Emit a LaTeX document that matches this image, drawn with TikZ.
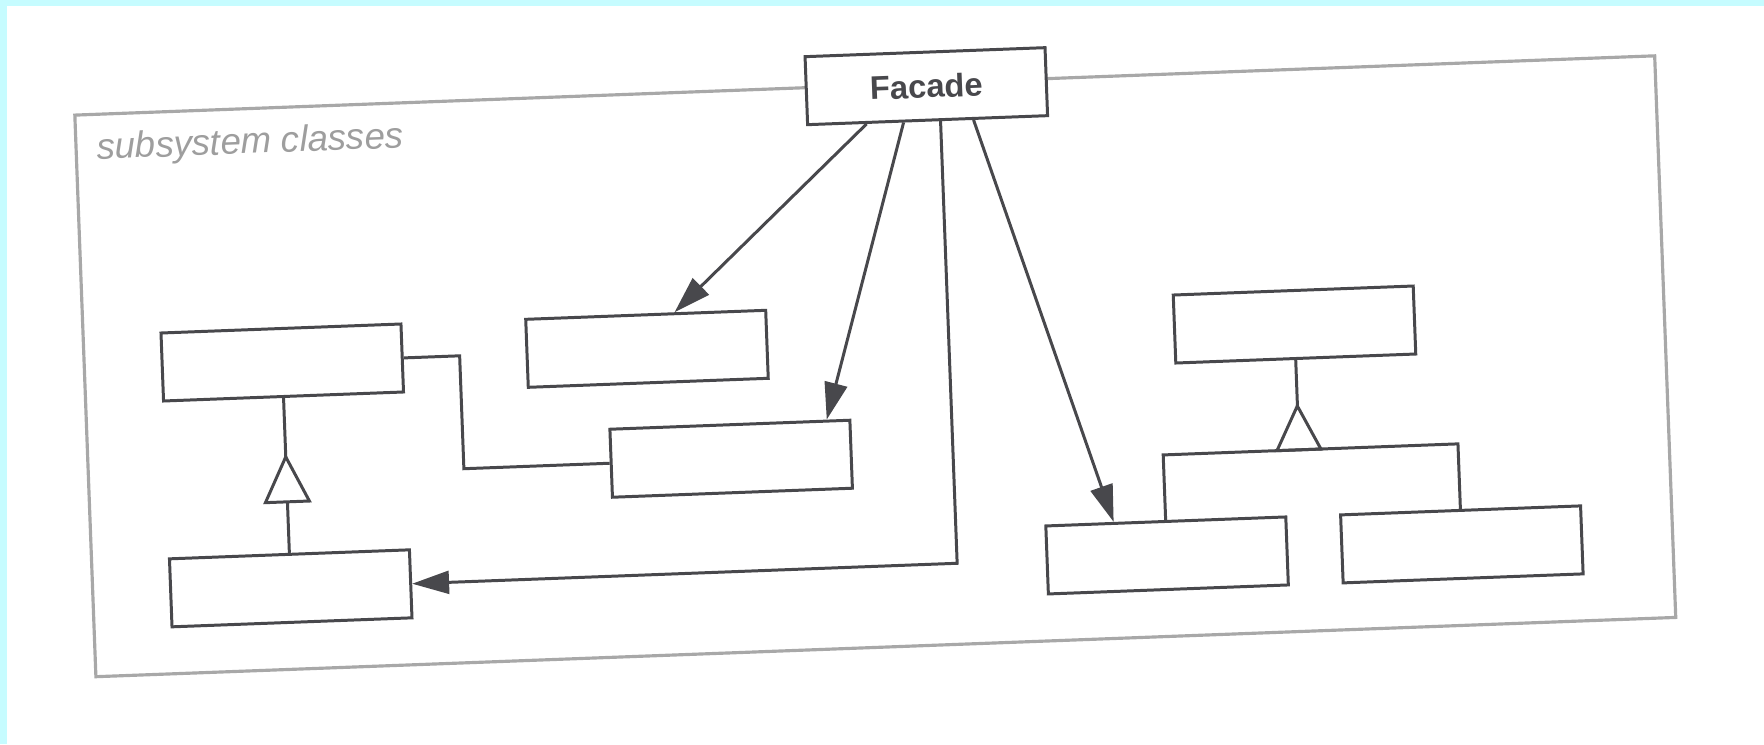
\documentclass[tikz,border=0pt]{standalone}
\usepackage{fontspec}
\setmainfont{Liberation Sans}
\usetikzlibrary{arrows.meta}
\definecolor{edgecyan}{RGB}{198,252,255}
\definecolor{umlgrey}{RGB}{72,72,76}
\definecolor{framegrey}{RGB}{168,168,168}
\definecolor{labelgrey}{RGB}{158,158,158}

\begin{document}
\begin{tikzpicture}[x=0.01cm, y=-0.01cm,
  >={Triangle[length=10.5pt,width=6.5pt]},
  cls/.style={draw=umlgrey, line width=0.85pt, fill=white,
    minimum width=2.4cm, minimum height=0.68cm, inner sep=0pt},
  link/.style={draw=umlgrey, line width=0.85pt}]

\useasboundingbox (0,0) rectangle (1764,744);
\fill[white] (0,0) rectangle (1764,744);
\fill[edgecyan] (0,0) rectangle (7,744);
\fill[edgecyan] (0,0) rectangle (1764,6);

\begin{scope}[rotate around={2.15:(882,372)}, transform shape]

% subsystem frame
\draw[framegrey, line width=0.9pt] (85,85) rectangle (1666,647);
\node[anchor=base west, inner sep=0pt, text=labelgrey,
  font=\itshape\fontsize{10.4}{12}\selectfont] (lbl) at (105,130) {subsystem classes};

\node[cls, text=umlgrey, font=\bfseries\fontsize{9.3}{11}\selectfont] (facade) at (937,88) {Facade};

\node[cls] (a) at (283,340) {};
\node[cls] (b) at (283,566) {};
\node[cls] (c) at (648,340) {};
\node[cls] (d) at (728,453) {};
\node[cls] (e) at (1296,340) {};
\node[cls] (f) at (1160,566) {};
\node[cls] (g) at (1455,566) {};

% facade uses
\draw[link, ->] ([xshift=-0.61cm]facade.south) -- ([xshift=0.29cm]c.north);
\draw[link, ->] ([xshift=-0.24cm]facade.south) -- ([xshift=0.97cm]d.north);
\draw[link, ->] ([xshift=0.13cm]facade.south) |- (b.east);
\draw[link, ->] ([xshift=0.46cm]facade.south) -- ([xshift=-0.52cm]f.north);

% association a -- d
\draw[link] (a.east) -- ++(56,0) |- (d.west);

% b inherits a
\draw[link] (a.south) -- ++(0,59) coordinate (tip1);
\draw[link, fill=white] (tip1) -- ++(-22,45) -- ++(44,0) -- cycle;
\draw[link] (tip1) ++(0,45) -- (b.north);

% f, g inherit e
\draw[link] (e.south) -- ++(0,46) coordinate (tip2);
\draw[link] (tip2) -- ++(-22,44) coordinate (base2) -- ++(44,0) -- cycle;
\draw[link] (f.north) -- (f.north |- base2) -- (g.north |- base2) -- (g.north);

\end{scope}
\end{tikzpicture}
\end{document}
